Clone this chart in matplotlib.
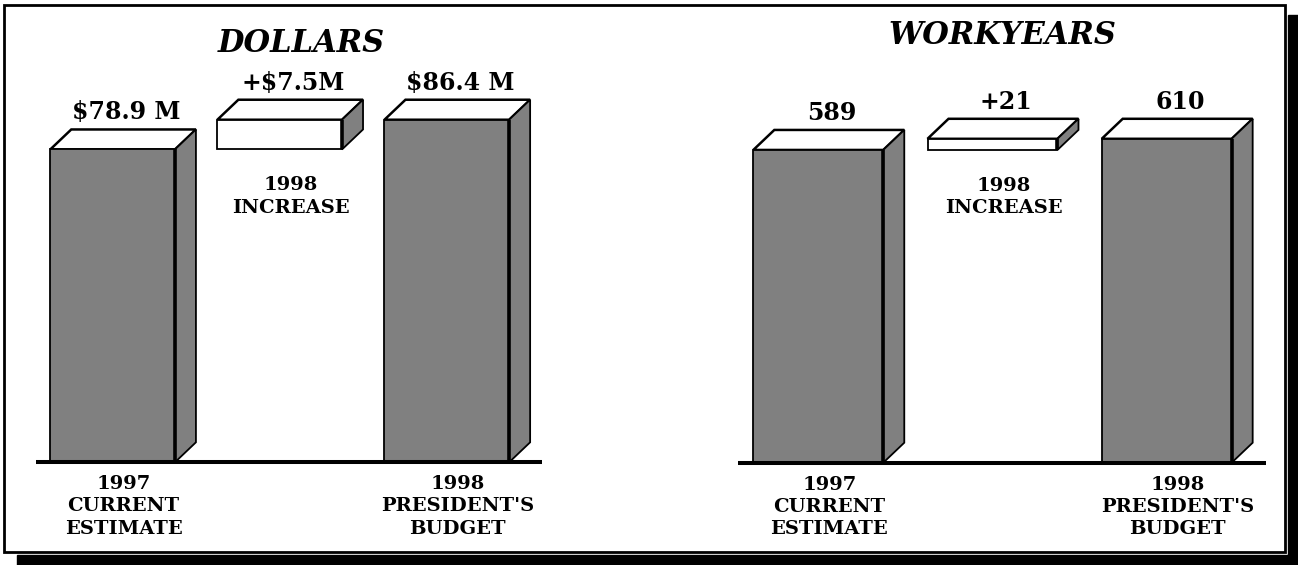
import matplotlib.pyplot as plt
from matplotlib.patches import Polygon, Rectangle

W, H = 1298, 565

# data
categories = ["1997\nCURRENT\nESTIMATE", "1998\nINCREASE", "1998\nPRESIDENT'S\nBUDGET"]
dollars = [78.9, 7.5, 86.4]
dollar_labels = ["$78.9 M", "+$7.5M", "$86.4 M"]
workyears = [589, 21, 610]
workyear_labels = ["589", "+21", "610"]

GRAY = "#808080"
SERIF = "DejaVu Serif"

fig = plt.figure(figsize=(W / 100, H / 100), dpi=100)


def fx(px):
    return px / W


def fy(py):
    return 1 - py / H


def panel_axes(x0, x1, pos0, step, base, k):
    # axes where one category step = `step` px and one unit = `k` px
    ax = fig.add_axes([fx(x0), 0, (x1 - x0) / W, 1])
    ax.set_xlim((x0 - pos0) / step, (x1 - pos0) / step)
    ax.set_ylim(-(H - base) / k, base / k)
    ax.axis("off")
    return ax


def draw_panel(ax, values, value_labels, step, k):
    width = 0.746
    ddx = 21 / step   # 3d depth in data units
    ddy = 20 / k
    bottoms = [0, values[0], 0]   # increase floats on top of the first bar
    faces = [GRAY, "white", GRAY]
    pos = list(range(len(values)))

    ax.bar(pos, values, width=width, bottom=bottoms, color=faces,
           edgecolor="black", linewidth=1.3, zorder=3)

    for i, (v, b) in enumerate(zip(values, bottoms)):
        xl, xr = i - width / 2, i + width / 2
        top = b + v
        ax.add_patch(Polygon([(xl, top), (xl + ddx, top + ddy), (xr + ddx, top + ddy), (xr, top)],
                             closed=True, facecolor="white", edgecolor="black",
                             lw=1.8, zorder=2))
        ax.add_patch(Polygon([(xr, b), (xr + ddx, b + ddy), (xr + ddx, top + ddy), (xr, top)],
                             closed=True, facecolor=GRAY, edgecolor="black",
                             lw=1.3, zorder=2))
        ax.plot([xr, xr], [b, top], color="black", lw=2.6, zorder=4,
                solid_capstyle="butt")
        ax.annotate(value_labels[i], (i + ddx / 2, top + ddy), xytext=(3, 17),
                    textcoords="offset pixels", ha="center", va="center",
                    fontsize=17, fontweight="bold", family=SERIF)
        if i == 1:
            ax.annotate(categories[i], (i, b), xytext=(11, -47),
                        textcoords="offset pixels", ha="center", va="center",
                        fontsize=14, fontweight="bold", family=SERIF,
                        linespacing=1.3)
        else:
            ax.annotate(categories[i], (i, 0), xytext=(11, -44),
                        textcoords="offset pixels", ha="center", va="center",
                        fontsize=14, fontweight="bold", family=SERIF,
                        linespacing=1.3)

    ax.plot([-0.46, 2.57], [0, 0], color="black", lw=2.9, zorder=5,
            solid_capstyle="butt")


ax1 = panel_axes(0, 649, 112.6, 167.1, 462.3, 3.965)
draw_panel(ax1, dollars, dollar_labels, 167.1, 3.965)

ax2 = panel_axes(649, 1298, 818.3, 174.2, 462.7, 0.531)
draw_panel(ax2, workyears, workyear_labels, 174.2, 0.531)

fig.text(fx(301), fy(43), "DOLLARS", ha="center", va="center", fontsize=22,
         fontweight="bold", fontstyle="italic", family=SERIF)
fig.text(fx(1002), fy(36), "WORKYEARS", ha="center", va="center", fontsize=22,
         fontweight="bold", fontstyle="italic", family=SERIF)

# frame with drop shadow
fig.patches.append(Rectangle((fx(1288), fy(565)), fx(10), 550 / H, color="black",
                             transform=fig.transFigure, zorder=1))
fig.patches.append(Rectangle((fx(17), fy(565)), fx(1281), 10 / H, color="black",
                             transform=fig.transFigure, zorder=1))
fig.patches.append(Rectangle((fx(4), fy(552)), fx(1281), 547 / H, fill=False,
                             edgecolor="black", lw=2, transform=fig.transFigure,
                             zorder=1))

fig.savefig("out.png", dpi=100)
